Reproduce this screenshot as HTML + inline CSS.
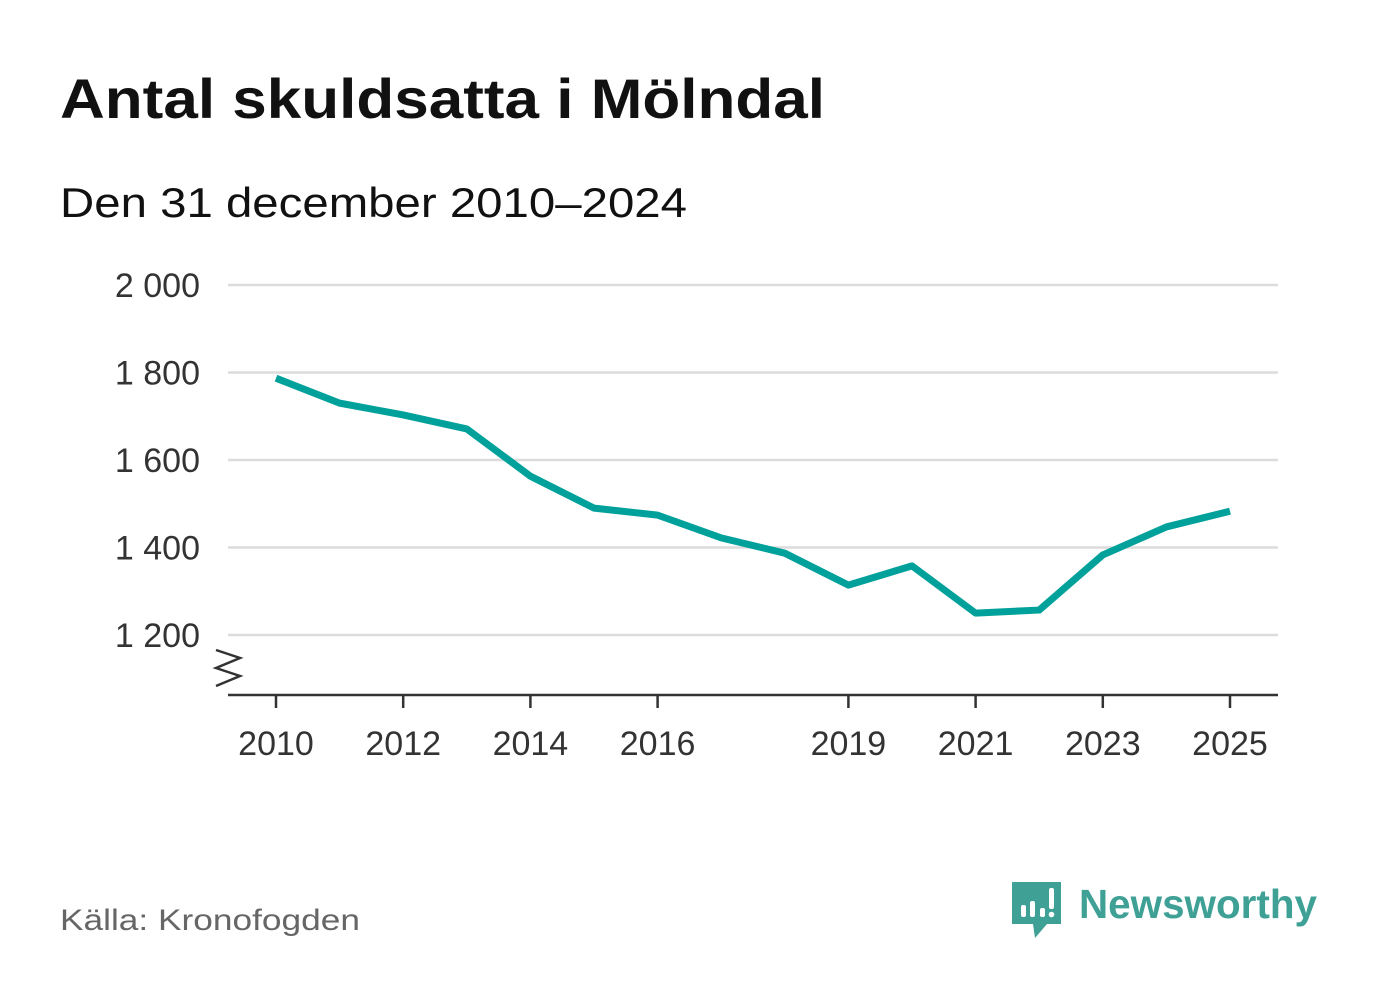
<!DOCTYPE html>
<html><head><meta charset="utf-8"><style>
body{margin:0;background:#fff;width:1382px;height:999px;overflow:hidden;font-family:"Liberation Sans",sans-serif}
</style></head><body>
<svg id="chart" width="1382" height="999" xmlns="http://www.w3.org/2000/svg">
<text x="60" y="118" font-size="56" font-weight="bold" fill="#111" textLength="765" lengthAdjust="spacingAndGlyphs">Antal skuldsatta i Mölndal</text>
<text x="60" y="217" font-size="42" fill="#111" textLength="627" lengthAdjust="spacingAndGlyphs">Den 31 december 2010–2024</text>
<g id="grid"></g><g id="xaxis"></g>
<path d="M216 650 L240 658 L216 668 L240 676 L216 686" fill="none" stroke="#333" stroke-width="2.5"/>
<line x1="228" y1="695" x2="1278" y2="695" stroke="#333" stroke-width="2.5"/>
<path id="line" fill="none" stroke="#00a19a" stroke-width="7" stroke-linejoin="round"/>
<text x="60" y="930" font-size="30" fill="#666" textLength="300" lengthAdjust="spacingAndGlyphs">Källa: Kronofogden</text>
<g>
<path d="M1012 882 h49 v42 h-14 l-12 14 l-2 -14 h-21 z" fill="#3fa096"/>
<rect x="1021" y="905" width="5" height="12" rx="2" fill="#fff"/><rect x="1030" y="901" width="5" height="16" rx="2" fill="#fff"/><rect x="1040" y="908" width="5" height="9" rx="2" fill="#fff"/><rect x="1049" y="888" width="5" height="21" rx="2" fill="#fff"/><circle cx="1051.5" cy="914.5" r="2.8" fill="#fff"/>
<text x="1079" y="918" font-size="41" font-weight="bold" fill="#3fa096" textLength="238" lengthAdjust="spacingAndGlyphs">Newsworthy</text>
</g>
</svg>
<script>
const years=[2010,2011,2012,2013,2014,2015,2016,2017,2018,2019,2020,2021,2022,2023,2024,2025];
const values=[1787,1730,1703,1671,1563,1490,1474,1422,1387,1314,1358,1250,1257,1383,1447,1483];
const yTicks=[1200,1400,1600,1800,2000];
const yTickLabels=["1 200","1 400","1 600","1 800","2 000"];
const xTicks=[2010,2012,2014,2016,2019,2021,2023,2025];
const NS="http://www.w3.org/2000/svg";
const xs=y=>276+(y-2010)*(1230-276)/15;
const ys=v=>635-(v-1200)*(350/800);
const grid=document.getElementById('grid');
yTicks.forEach((t,i)=>{
 const l=document.createElementNS(NS,'line');
 l.setAttribute('x1',228);l.setAttribute('x2',1278);l.setAttribute('y1',ys(t));l.setAttribute('y2',ys(t));
 l.setAttribute('stroke','#dcdcdc');l.setAttribute('stroke-width','2.5');
 
 
 grid.appendChild(l);
 const tx=document.createElementNS(NS,'text');
 tx.setAttribute('x',200);tx.setAttribute('y',ys(t)+12);tx.setAttribute('text-anchor','end');
 tx.setAttribute('font-size','34');tx.setAttribute('fill','#333');tx.textContent=yTickLabels[i];
 
 
 grid.appendChild(tx);
});
const xa=document.getElementById('xaxis');
xTicks.forEach(t=>{
 const l=document.createElementNS(NS,'line');
 l.setAttribute('x1',xs(t));l.setAttribute('x2',xs(t));l.setAttribute('y1',695);l.setAttribute('y2',708);
 l.setAttribute('stroke','#333');l.setAttribute('stroke-width','2.5');
 
 
 xa.appendChild(l);
 const tx=document.createElementNS(NS,'text');
 tx.setAttribute('x',xs(t));tx.setAttribute('y',755);tx.setAttribute('text-anchor','middle');
 tx.setAttribute('font-size','34');tx.setAttribute('fill','#333');tx.textContent=t;
 
 
 xa.appendChild(tx);
});
document.getElementById('line').setAttribute('d',values.map((v,i)=>(i?'L':'M')+xs(years[i])+' '+ys(v)).join(' '));
</script>
</body></html>
